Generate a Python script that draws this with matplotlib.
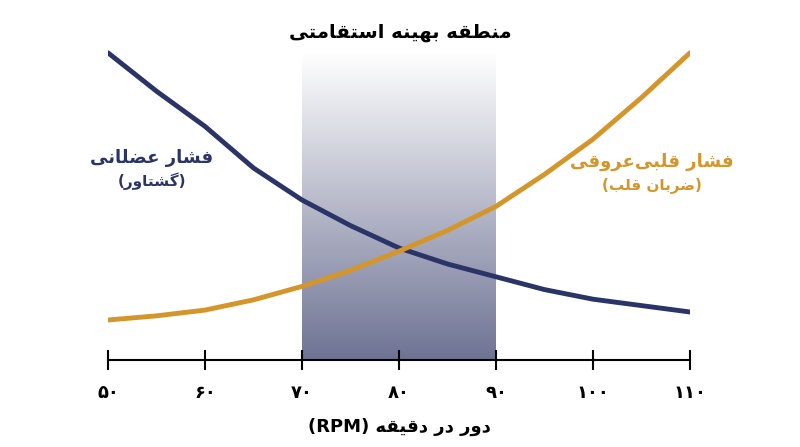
import numpy as np
import matplotlib
matplotlib.use("Agg")
import matplotlib.pyplot as plt
from matplotlib.colors import LinearSegmentedColormap

# ---- data ----
rpm = [50, 55, 60, 65, 70, 75, 80, 85, 90, 95, 100, 105, 110]
muscular = [96, 84, 73, 60, 50, 42, 35, 30, 26, 22, 19, 17, 15]
cardio = [12.5, 13.8, 15.6, 18.8, 23, 28, 34, 40.5, 48, 58, 69, 82, 96]
zone = [70, 90]
xticks = [50, 60, 70, 80, 90, 100, 110]
xticklabels = ["۵۰", "۶۰", "۷۰", "۸۰", "۹۰", "۱۰۰", "۱۱۰"]

# ---- minimal Arabic/Persian shaping ----
FORMS = {  # iso, fin, ini, med
    'ا': (0xFE8D, 0xFE8E, None, None), 'ب': (0xFE8F, 0xFE90, 0xFE91, 0xFE92),
    'ت': (0xFE95, 0xFE96, 0xFE97, 0xFE98), 'د': (0xFEA9, 0xFEAA, None, None),
    'ر': (0xFEAD, 0xFEAE, None, None), 'س': (0xFEB1, 0xFEB2, 0xFEB3, 0xFEB4),
    'ش': (0xFEB5, 0xFEB6, 0xFEB7, 0xFEB8), 'ض': (0xFEBD, 0xFEBE, 0xFEBF, 0xFEC0),
    'ط': (0xFEC1, 0xFEC2, 0xFEC3, 0xFEC4), 'ع': (0xFEC9, 0xFECA, 0xFECB, 0xFECC),
    'ف': (0xFED1, 0xFED2, 0xFED3, 0xFED4), 'ق': (0xFED5, 0xFED6, 0xFED7, 0xFED8),
    'ل': (0xFEDD, 0xFEDE, 0xFEDF, 0xFEE0), 'م': (0xFEE1, 0xFEE2, 0xFEE3, 0xFEE4),
    'ن': (0xFEE5, 0xFEE6, 0xFEE7, 0xFEE8), 'ه': (0xFEE9, 0xFEEA, 0xFEEB, 0xFEEC),
    'و': (0xFEED, 0xFEEE, None, None), 'ی': (0xFEEF, 0xFEF0, 0xFEF3, 0xFEF4),
    'گ': (0xFB92, 0xFB93, 0xFB94, 0xFB95),
}
MIRROR = {'(': ')', ')': '('}

def shape(s):
    out = []
    for i, c in enumerate(s):
        if c not in FORMS:
            if c != '\u200c':
                out.append(MIRROR.get(c, c))
            continue
        prev = s[i-1] if i > 0 else None
        nxt = s[i+1] if i + 1 < len(s) else None
        jp = prev in FORMS and FORMS[prev][2] is not None
        jn = nxt in FORMS and FORMS[c][2] is not None
        f = FORMS[c]
        if jp and jn: code = f[3]
        elif jp: code = f[1]
        elif jn: code = f[2]
        else: code = f[0]
        out.append(chr(code))
    return ''.join(out[::-1])

navy = "#2b3466"
orange = "#d4962a"
FONT = ['DejaVu Sans']

fig = plt.figure(figsize=(8, 4.47), dpi=100)
ax = fig.add_axes([108/800, 1-360/447, (690-108)/800, 320/447])
ax.set_xlim(50, 110)
ax.set_ylim(0, 100)

# gradient zone (white at top, slate at bottom)
cmap = LinearSegmentedColormap.from_list("z", ["#ffffff", "#6e7394"])
grad = np.linspace(0, 1, 256).reshape(-1, 1)
ax.imshow(grad, extent=[zone[0], zone[1], 0, 96], aspect='auto', cmap=cmap,
          zorder=0, vmin=0, vmax=1, origin='upper')

ax.plot(rpm, muscular, color=navy, lw=3.5, solid_capstyle='round', solid_joinstyle='round', zorder=3)
ax.plot(rpm, cardio, color=orange, lw=3.5, solid_capstyle='round', solid_joinstyle='round', zorder=3)

for s in ['top', 'right', 'left']:
    ax.spines[s].set_visible(False)
ax.spines['bottom'].set_linewidth(1.5)
ax.set_yticks([])
ax.set_xticks(xticks)
ax.set_xticklabels(xticklabels, fontsize=13, fontweight='bold', family=FONT)
ax.tick_params(axis='x', direction='inout', length=14, width=1.5, pad=10)
ax.set_xlabel("(RPM) " + shape("دور در دقیقه"),
              fontsize=13, fontweight='bold', family=FONT, labelpad=12)

fig.text(0.5, 1-33/447, shape("منطقه بهینه استقامتی"), ha='center', va='center',
         fontsize=14, fontweight='bold', family=FONT)
fig.text(152/800, 1-158/447, shape("فشار عضلانی"), ha='center', va='center',
         fontsize=13, fontweight='bold', color=navy, family=FONT)
fig.text(152/800, 1-181/447, shape("(گشتاور)"), ha='center', va='center',
         fontsize=11, fontweight='bold', color=navy, family=FONT)
fig.text(652/800, 1-162/447, shape("فشار قلبی\u200cعروقی"), ha='center', va='center',
         fontsize=13, fontweight='bold', color=orange, family=FONT)
fig.text(652/800, 1-185/447, shape("(ضربان قلب)"), ha='center', va='center',
         fontsize=11, fontweight='bold', color=orange, family=FONT)

fig.savefig("out.png", dpi=100)
